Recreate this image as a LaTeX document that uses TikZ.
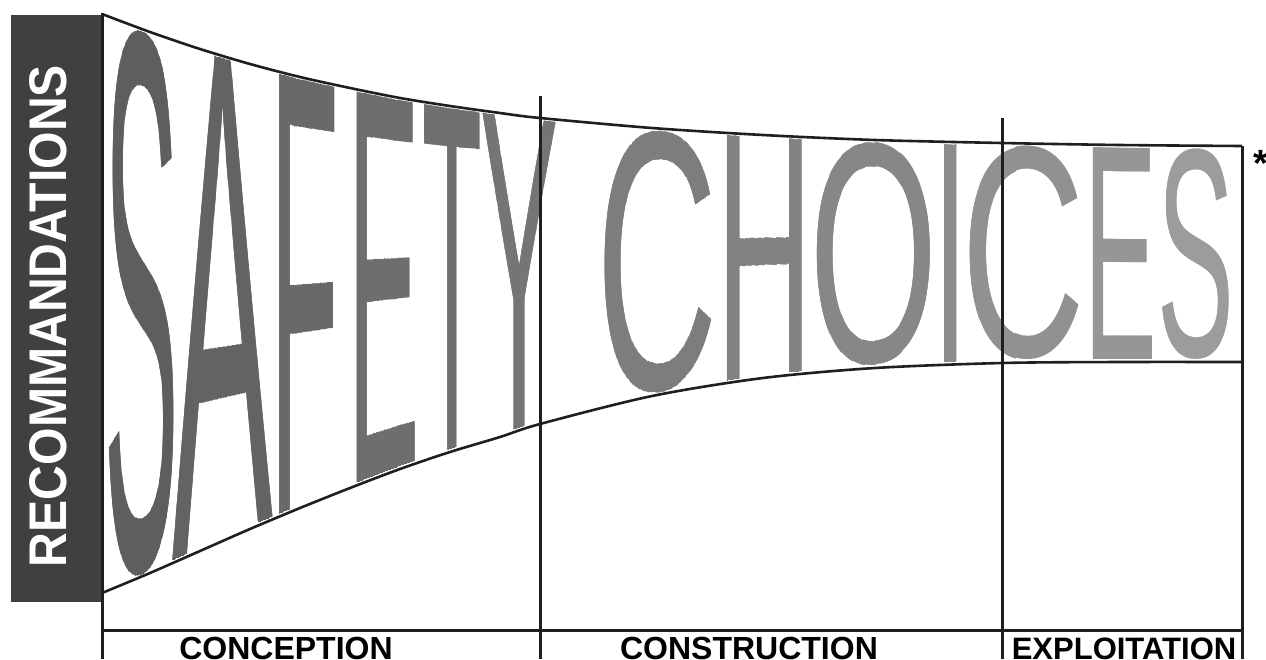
\documentclass[tikz,border=0pt]{standalone}
\usepackage{fontspec}
\usepackage{graphicx}
\setmainfont{Liberation Sans}
\newfontfamily\wfont{Liberation Sans}

% envelope table: x / top y / bottom y (pixel coordinates, y downward)
\def\envtable{102/14/593,150/32/573,200/49/551,250/64/529,300/77/508,350/88/488,400/98/469,450/106/452,500/113/437,540/118/424,652/128/396,763/135/378,875/140/368,1002/143/363,1120/145/362,1242/146/362}

\newif\ifenvfound
\newcommand\getenv[1]{%
  \pgfmathsetmacro\envX{#1}%
  \global\envfoundfalse
  \xdef\envLX{102}\xdef\envLT{14}\xdef\envLB{593}%
  \foreach \eX/\eT/\eB in \envtable {%
    \ifenvfound\else
      \ifdim\envX pt<\eX pt\relax
        \ifdim\eX pt>\envLX pt\relax
          \pgfmathsetmacro\envF{(\envX-\envLX)/(\eX-\envLX)}%
          \pgfmathsetmacro\envTT{\envLT+\envF*(\eT-\envLT)}%
          \pgfmathsetmacro\envBB{\envLB+\envF*(\eB-\envLB)}%
          \xdef\envT{\envTT}\xdef\envB{\envBB}%
          \global\envfoundtrue
        \fi
      \fi
      \xdef\envLX{\eX}\xdef\envLT{\eT}\xdef\envLB{\eB}%
    \fi
  }%
  \ifenvfound\else\xdef\envT{\envLT}\xdef\envB{\envLB}\fi
}

\def\wlinset{3}
\def\wlstep{1.5}
% #1 char, #2 ink left, #3 ink right, #4 advance, #5 bbox left, #6 bbox right, #7 id
\newcommand\warpletter[7]{%
  \pgfmathsetmacro\wlW{(#3-#2)*(#4/(#6-#5))}%
  \pgfmathsetmacro\wlX{#2-\wlW*(#5/#4)}%
  \pgfmathsetmacro\wlN{int(63-23*(((#2+#3)/2-142)/1053))}%
  \colorlet{wlc}{black!\wlN}%
  \pgfmathsetmacro\wlA{#2-4}%
  \pgfmathsetmacro\wlS{int(ceil((#3-#2+8)/\wlstep))}%
  \pgfmathsetmacro\wlD{(#3-#2+8)/\wlS}%
  \foreach \wli in {1,...,\wlS} {%
    \pgfmathsetmacro\wlL{\wlA+(\wli-1)*\wlD}%
    \pgfmathsetmacro\wlR{\wlA+\wli*\wlD}%
    \getenv{(\wlL+\wlR)/2}%
    \pgfmathsetmacro\wlH{\envB-\envT-2*\wlinset}%
    \pgfmathsetmacro\wlY{\envT+\wlinset}%
    \begin{scope}
      \clip (\wlL-0.2,0) rectangle (\wlR+0.2,659);
      \node[letterpart, name=wl#7-\wli] at (\wlX,\wlY) {\resizebox*{\wlW pt}{\wlH pt}{\wfont #1}};
    \end{scope}
  }%
}

\tikzset{
  frame/.style={line width=3pt, draw=black!88},
  curve/.style={line width=2.6pt, draw=black!88},
  letterpart/.style={anchor=north west, inner sep=0pt, outer sep=0pt, text=wlc},
  phase/.style={font=\bfseries\fontsize{32}{32}\selectfont, anchor=base, inner sep=0pt},
}

\begin{document}
\begin{tikzpicture}[x=1pt,y=-1pt]
\useasboundingbox (0,0) rectangle (1266,659);
\fill[white] (0,0) rectangle (1266,659);
\clip (0,0) rectangle (1266,659);

% warped title
\warpletter{S}{110}{173}{667}{45}{610}{s1}
\warpletter{A}{172}{273}{667}{-1.5}{668}{a1}
\warpletter{F}{280}{334}{611}{82}{563}{f1}
\warpletter{E}{357}{413}{667}{79}{604}{e1}
\warpletter{T}{425}{480}{611}{24}{588}{t1}
\warpletter{Y}{480}{558}{667}{-3}{664}{y1}
\warpletter{C}{605}{710}{722}{50}{674}{c1}
\warpletter{H}{727}{802}{722}{80}{642}{h1}
\warpletter{O}{817}{930}{778}{48}{732}{o1}
\warpletter{I}{945}{957}{278}{93}{185}{i1}
\warpletter{C}{970}{1077}{722}{50}{674}{c2}
\warpletter{E}{1093}{1150}{667}{79}{604}{e2}
\warpletter{S}{1163}{1228}{667}{45}{610}{s2}

% side box
\node[fill=black!75, minimum width=90pt, minimum height=587pt, inner sep=0pt, outer sep=0pt, anchor=north west] (recbox) at (11,15) {};
\node[rotate=90, text=white, inner sep=0pt] (rec) at (48.5,316) {\resizebox{502pt}{37pt}{\bfseries RECOMMANDATIONS}};

% envelope curves
\draw[curve] plot[smooth] coordinates {(102,14) (150,32) (200,49) (250,64) (300,77) (350,88) (400,98) (450,106) (500,113) (540,118) (652,128) (763,135) (875,140) (1002,143) (1120,145) (1242,146)};
\draw[curve] plot[smooth] coordinates {(102,593) (150,573) (200,551) (250,529) (300,508) (350,488) (400,469) (450,452) (500,437) (540,424) (652,396) (763,378) (875,368) (1002,363) (1120,362) (1242,362)};

% phase grid
\coordinate (v0t) at (102,13);   \coordinate (v0b) at (102,659);
\coordinate (v1t) at (540,96);   \coordinate (v1b) at (540,659);
\coordinate (v2t) at (1002,118); \coordinate (v2b) at (1002,659);
\coordinate (v3t) at (1242,146); \coordinate (v3b) at (1242,659);
\coordinate (hl) at (102,630);   \coordinate (hr) at (1242,630);
\draw[frame] (v0t) -- (v0b);
\draw[frame] (v1t) -- (v1b);
\draw[frame] (v2t) -- (v2b);
\draw[frame] (v3t) -- (v3b);
\draw[frame] (hl) -- (hr);

% phase labels
\node[phase] (conc) at (286,659) {CONCEPTION};
\node[phase] (cons) at (749,659) {CONSTRUCTION};
\node[phase, font=\bfseries\fontsize{31}{31}\selectfont] (expl) at (1124,659) {EXPLOITATION};

% asterisk
\node[anchor=north, inner sep=0pt, font=\bfseries\fontsize{38}{38}\selectfont] (star) at (1261,150) {*};
\end{tikzpicture}
\end{document}
